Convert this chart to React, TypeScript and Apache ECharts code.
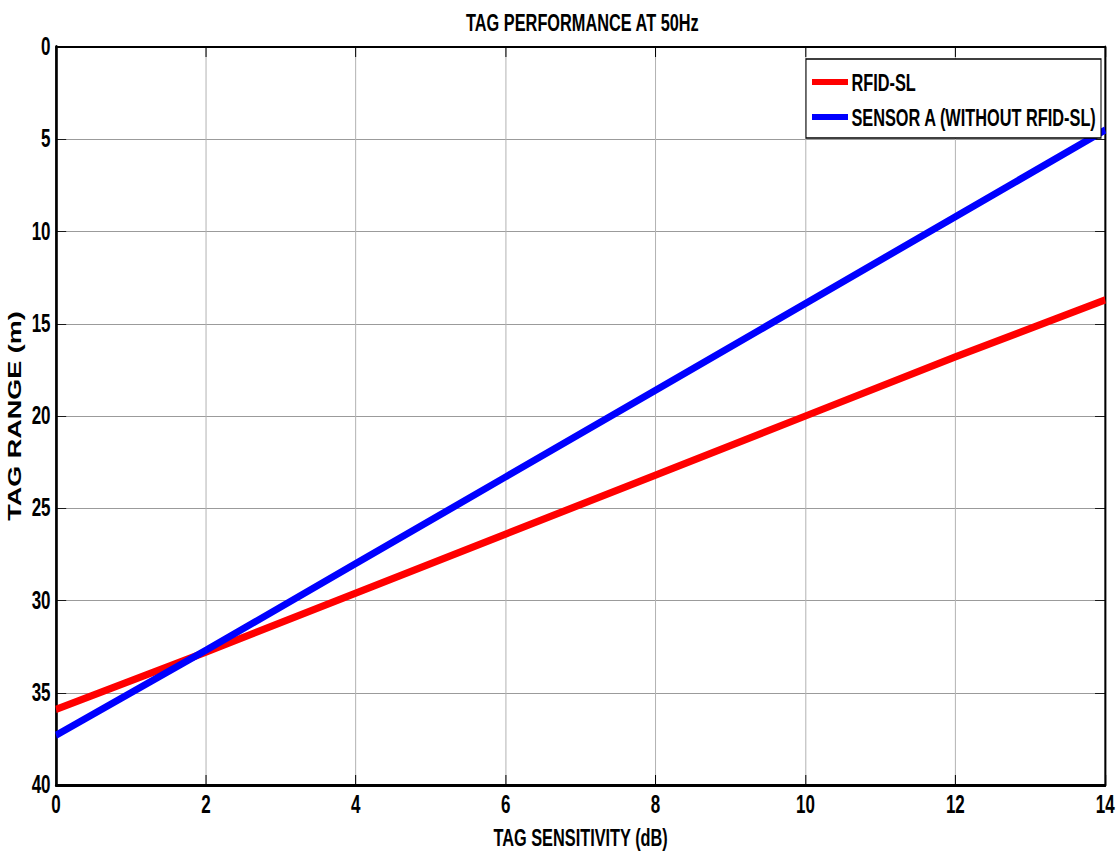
import React, { useEffect, useRef } from "react";
import * as echarts from "echarts";

const title = "TAG PERFORMANCE AT 50Hz";
const xName = "TAG SENSITIVITY (dB)";
const yName = "TAG RANGE (m)";
const sensitivity = [0, 2, 4, 6, 8, 10, 12, 14];
const rfidSL = [35.9, 32.8, 29.6, 26.4, 23.2, 20.0, 16.8, 13.7];
const sensorA = [37.3, 32.7, 28.0, 23.3, 18.6, 13.9, 9.2, 4.5];
const seriesNames = ["RFID-SL", "SENSOR A (WITHOUT RFID-SL)"];
const seriesColors = ["#ff0000", "#0000ff"];

// the reference figure is squeezed horizontally; reproduce with a CSS scaleX
const SX = 0.68;
const W = 1117;
const H = 854;
const CW = W / SX;
const FONT = "'Liberation Sans', Arial, sans-serif";

export default function App() {
  const ref = useRef<HTMLDivElement>(null);
  useEffect(() => {
    if (!ref.current) return;
    const chart = echarts.init(ref.current, null, { renderer: "svg" });
    const px = (v: number) => v / SX;
    const lab = { color: "#000", fontFamily: FONT, fontWeight: "bold" as const, fontSize: 25 };
    chart.setOption({
      animation: false,
      backgroundColor: "#fff",
      title: {
        text: title,
        left: px(579),
        textAlign: "center",
        top: 5,
        textStyle: { fontFamily: FONT, fontWeight: "bold", fontSize: 24, color: "#000" },
      },
      grid: {
        left: px(56),
        right: px(12),
        top: 47,
        bottom: 69,
        outerBoundsMode: "none",
        containLabel: false,
        show: false,
      },
      graphic: [
        {
          type: "rect",
          z: 10,
          shape: { x: px(806), y: 59, width: px(1101 - 806), height: 79 },
          style: { fill: "#fff", stroke: "#000", lineWidth: 1.5 },
        },
      ],
      legend: {
        orient: "vertical",
        left: px(812),
        top: 70,
        padding: 0,
        itemGap: 11,
        itemWidth: px(36),
        itemHeight: 6,
        icon: "rect",
        z: 20,
        textStyle: { fontFamily: FONT, fontWeight: "bold", fontSize: 24, color: "#000" },
        data: seriesNames,
      },
      xAxis: [
        {
          type: "value",
          min: 0,
          max: 14,
          interval: 2,
          name: xName,
          nameLocation: "middle",
          nameGap: 40,
          nameTextStyle: { fontFamily: FONT, fontWeight: "bold", fontSize: 24, color: "#000" },
          axisLine: { show: true, onZero: false, lineStyle: { color: "#000", width: 3 } },
          axisTick: { show: true, inside: true, length: 10, lineStyle: { color: "#000", width: 1.5 } },
          axisLabel: { ...lab, margin: 7 },
          splitLine: { show: true, lineStyle: { color: "#b4b4b4", width: 1.5 } },
        },
        {
          type: "value",
          position: "top",
          min: 0,
          max: 14,
          interval: 2,
          axisLine: { show: true, onZero: false, lineStyle: { color: "#000", width: 2 } },
          axisTick: { show: true, inside: true, length: 10, lineStyle: { color: "#000", width: 1.5 } },
          axisLabel: { show: false },
          splitLine: { show: false },
        },
      ],
      yAxis: [
        {
          type: "value",
          min: 0,
          max: 40,
          interval: 5,
          inverse: true,
          name: yName,
          nameLocation: "middle",
          nameGap: 41,
          nameTextStyle: { fontFamily: FONT, fontWeight: "bold", fontSize: 27, color: "#000" },
          axisLine: { show: true, onZero: false, lineStyle: { color: "#000", width: 4 } },
          axisTick: { show: true, inside: true, length: 15, lineStyle: { color: "#000", width: 1 } },
          axisLabel: { ...lab, margin: 8 },
          splitLine: { show: true, lineStyle: { color: "#888", width: 1 } },
        },
        {
          type: "value",
          position: "right",
          min: 0,
          max: 40,
          interval: 5,
          inverse: true,
          axisLine: { show: true, onZero: false, lineStyle: { color: "#000", width: 3 } },
          axisTick: { show: true, inside: true, length: 15, lineStyle: { color: "#000", width: 1 } },
          axisLabel: { show: false },
          splitLine: { show: false },
        },
      ],
      series: [rfidSL, sensorA].map((vals, i) => ({
        name: seriesNames[i],
        type: "line",
        xAxisIndex: 0,
        yAxisIndex: 0,
        showSymbol: false,
        symbol: "none",
        data: sensitivity.map((x, j) => [x, vals[j]]),
        lineStyle: { color: seriesColors[i], width: 7.5 },
        itemStyle: { color: seriesColors[i] },
        clip: true,
      })),
    });
    return () => chart.dispose();
  }, []);
  return (
    <div style={{ position: "absolute", left: 0, top: 0, width: W, height: H, overflow: "hidden", background: "#fff" }}>
      <div
        ref={ref}
        style={{ width: CW, height: H, transform: `scaleX(${SX})`, transformOrigin: "0 0" }}
      />
    </div>
  );
}
